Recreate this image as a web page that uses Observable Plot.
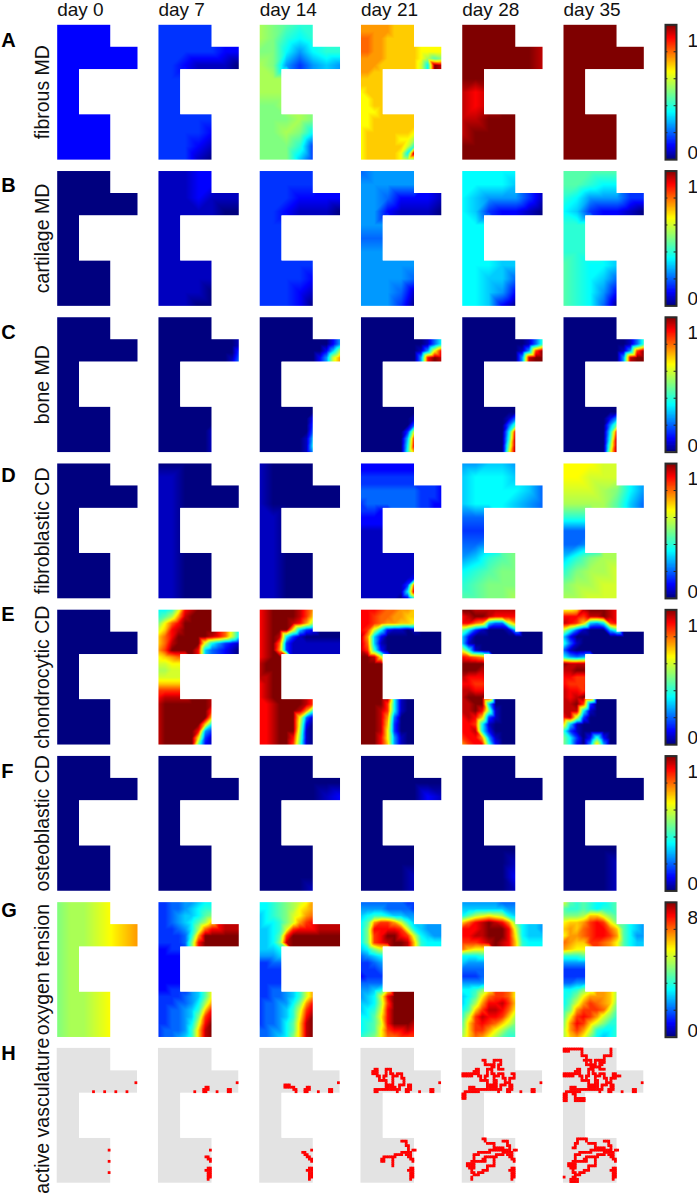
<!DOCTYPE html>
<html><head><meta charset="utf-8">
<style>html,body{margin:0;padding:0;background:#fff}#c{position:relative;width:697px;height:1198px;overflow:hidden}#c svg{position:absolute;left:0;top:0;background:transparent}</style>
<script src="https://cdn.jsdelivr.net/npm/d3@7"></script>
<script src="https://cdn.jsdelivr.net/npm/@observablehq/plot@0.6"></script>
</head><body><div id="c"></div>
<script>
const days = ["day 0","day 7","day 14","day 21","day 28","day 35"];
const rowNames = ["fibrous MD","cartilage MD","bone MD","fibroblastic CD","chondrocytic CD","osteoblastic CD","oxygen tension","active vasculature"];
const letters = ["A","B","C","D","E","F","G","H"];
const letterDepth = [10,9.4,9.6,8.4,5.1,9.8,6.7,5.2];

// Levels are base-36 digits 0..k along the rainbow ramp; each space-separated token is one row of samples.
const fibrous = ["2",
"33333 33333 3333322 3321110 333 333 333 33333 33332 33321 33310",
"ba988 ba878 aa75788 ba53565 bbb bbb aab aaaba aaba7 aaa83 aaa63",
"fffffeeee fffffeeee ggffeeeee ggffeeeee ggffeeeeedddd ffffeeeeedb9a fffeeeeeec7kj ffeee eeeee eeeee deeee ddeee ddeee dddee ddeeeeeee ddeeeeeee deeeeeeed deeeeeddb deeeeeec8 deeeeed7k deeeeedba",
"kkkkk kkkkk kkkkkkj kkkkkkj kkk jij jij jjkkk jkkkk kkkkk kkkkk",
"k"];
const cartilage = ["0",
"11122 11122 1112111 1111100 111 111 111 11111 11111 11110 11100",
"33333 33333 3332222 3321110 333 333 333 33333 33332 33321 33320",
"45555 55555 5542221 5521110 555 444 555 55555 55554 55541 55530",
"77777 77776 7655531 7632210 777 777 777 77766 77664 77652 77620",
"99999 99877 8755533 7632210 888 888 888 98776 98764 98752 98740"];
const bone = ["0",
"0 0 0 0 0000000000001 0000000000003 0000000000014 0 0 0 0 0 0 0 0 0 000000001 000000001 000000001 000000001",
"0 0 0 0 0000000000025 000000000026b 00000000025cf 0 0 0 0 0 0 0 0 000000002 000000003 000000004 000000016 000000017 000000015",
"0 0 0 0 0000000000147 00000000015di 0000000005ikj 0 0 0 0 0 0 0 0 000000001 000000004 00000003d 00000006i 00000007j 00000008f",
"0 0 0 0 0000000000148 00000000015hk 0000000005jkk 0 0 0 0 0 0 0 0 000000014 000000049 00000007j 00000008k 0000000ak 0000000ck",
"0 0 0 0 0000000000148 00000000015hk 0000000005jkk 0 0 0 0 0 0 0 0 000000025 00000005a 00000007i 00000008k 0000000ak 0000000ck"];
const fibroblastic = ["0",
"0 11000 1100000 1100000 110 110 110 11000 11000 11000 11000",
"10000 10000 1000000 1000000 110 110 110 11000 11000 11000 11000",
"2 2 3 3 4444444443332 4444444443332 3444444443322 33322 2 2 1 1 1 1 1 1 1 111111112 11111113h 11111117k 111111028",
"55665 67776 6777764 6777654 444 333 445 5689a 789aa 89aaa 99aab",
"dddcc ddccc cccba75 bbbb964 888 444 445 68abb 8abbc abbcc bbccc"];
const chondrocytic = ["0",
"778cijkkk 89bfjkkkk adgikkkkk ceijkkkkk egikkkkkjigc7 egjkkkkc75321 fhkkkki643210 defgg ccddd bbccc ccccc eeeee hhhhh ijjjj jkkkkkkkj jkkkkkkkh jkkkkkkke jkkkkkke7 jkkkkki53 jkkkkkd31 jkkkkk921",
"ijkkkkjhf ijkkkkjhe ijkkkjifb ijkkkd632 ijkj7310 ijkg31 ijkf31 ijkkk jkkkk jkkkk jjkkk ijkkk ijkkk ijkkk iijkkkkjh iijkkkjf8 iijkkkd41 iijkkkc20 iijkkkb10 iijkkia10 iijkkh910",
"iiihggffe iihggffee iihgffeed ihc721101 jf620 jg610 jh820 kkjd5 k k k k k k kkkkh7100 kkkjh7100 kkkjf4000 kkkje3000 kkkjd3000 kkkid5100 kkkie5100",
"kkjjjjjjj ijkkjiiii iigf644cf a73100016 620 610 c710 ihgfc k kkkjj jiiij iihhi jjiij jkkkj jjkk60 jjkia10 ijie310 iih710 iij720 hiif510 fhii820",
"ddejkkkji iiihjjkji jihe657hi c84100069 620 8410 410 75457 kjjjj jjkki iihhi ihhhi jiihj jijkj jjkh30 jjj710 ijc30 e610 8310 a73028200 a7205e500"];
const osteoblastic = ["0","0",
"0 0 0 0000012 0 0 0 0 0 0 00001",
"0 0 0 0000021 0 0 0 0 0 00001 00001",
"0 0 0 0 0 0 0 0 00001 00002 00001",
"0 0 0 0 0 0 0 0 00001 00001 00001"];
const oxygen = [
"abbcdef abbcdef abbcdef abbcdef abbcdef abbcdef abbcdef abbcdef abbcdef abbcdef abbcdef",
"334455677 334456788 33456679a 3345679be 333457bgiijjj 333348fkkkkkk 33334aikkkkkk 22333 2 2 2 2 2 22333 33334569d 3334457bf 3344568ei 334456ahj 334457cik 344458ejk 344568ejk",
"7789abcdf 7789abdef 6789acdfg 6778acfhi 6678chiiijjjj 6679hkkkkkkkk 667ajkkkkkkkk 66678 55567 33444 3 3 33333 33445 3344568cf 344557afi 344568chj 344568dik 344579ejk 445579ejk 44567aejk",
"444444433 555544443 678876655 79fhhfc86 7aiiiihc76555 7ahikkihc7655 7ahijkkje8777 67acc 45677 33455 33344 23334 44445 5567d 567cikkkk 667bhkkkk 678cikkkk 779dikkkk 789cikkkj 789dhiiji 89adgghhh",
"555555444 666666655 79bcdcb76 egijkjifa iiijkkkic7665 iijjkkkid7666 hhhijkjie8777 geddc 77788 65555 44444 33344 55555 778ad 679dghhgd 68bfiijhe 79ehjjigd 8chjiiheb 9ehihgeca aehhfdb99 begfdb988",
"c98987789 988987889 aaabeeca9 deefhihda efeghiige9765 dffghiihf9755 gfeehhgfd9766 feddd 88899 55555 33333 33333 44555 778ac 78adfffeb 79cfhgfea 8afhhhgc9 9dhihfca8 afiheca88 bfhfc8778 befda7678"];
const heatRows = [fibrous,cartilage,bone,fibroblastic,chondrocytic,osteoblastic,oxygen];

// Vessel paths in scaffold cells, listed by the day they first appear.
const vessels0 = [[[16,19]],[[21,19]],[[26,19]],[[31,19]],[[35,15]],[[23,45]],[[23,50]],[[23,55]]];
const vessels7 = [[[21,17],[21,19]],[[22,17],[22,18]],[[20,18],[20,19]],[[31,18],[32,18]],[[31,19],[32,19]],
 [[21,48],[22,48],[22,49],[23,49],[23,50]],[[22,53],[23,53],[23,57]],[[21,54],[22,54]],[[22,55],[22,58]]];
const vessels14 = [[[11,16],[13,16],[13,17],[15,17],[15,18],[16,18],[16,19]],[[11,17],[12,17]],
 [[19,46],[20,46],[20,47],[21,47],[21,48]]];
const vessels21 = [[[5,10],[7,10]],[[5,11],[7,11]],[[6,9],[7,9]],[[7,12],[8,12],[8,14],[10,14]],[[6,18],[13,18]],[[6,19],[7,19]],
 [[11,9],[13,9],[13,11],[14,11],[14,18]],[[11,9],[11,12],[10,12],[10,14],[11,14],[11,16]],
 [[14,12],[16,12],[16,11],[18,11],[18,13],[19,13],[19,16],[17,16],[17,18]],[[21,16],[22,16]],[[26,19]],
 [[18,41],[20,41],[20,43],[21,43],[21,46],[22,46],[22,49]],[[24,45]],
 [[10,48],[15,48],[15,47],[18,47],[18,46],[19,46]],[[14,48],[14,52]],[[9,49],[10,49]],[[9,50],[10,50]]];
const vessels28 = [[[0,11],[6,11]],[[0,12],[4,12]],[[3,17],[5,17]],[[3,18],[5,18]],[[0,20],[1,20],[1,21],[0,21],[0,22],[1,22]],[[1,19],[6,19]],
 [[9,5],[10,5],[10,7],[13,7],[13,8],[14,8],[14,5],[17,5],[17,7],[16,7],[16,9],[18,9]],[[22,11],[23,11],[23,13]],[[22,13],[21,13],[21,15],[20,15]],[[15,14],[15,17]],
 [[9,40],[10,40],[10,41],[11,42],[14,42],[14,44],[18,44]],[[9,46],[7,46],[7,47],[5,47],[5,50],[4,50],[4,52]],[[2,51],[5,51]],[[2,52],[5,52]],[[3,53],[5,53]],
 [[4,54],[4,55],[5,55],[5,56],[4,57],[4,58]],[[5,56],[7,56],[7,55],[9,55],[9,54],[11,54],[11,52],[13,52]],[[9,46],[12,46],[12,45],[20,45]],[[6,50],[10,50]]];
const vessels35 = [[[0,0],[3,0]],[[0,1],[2,1]],[[4,0],[8,0],[8,3],[10,3],[10,5],[12,5],[12,8],[13,8],[13,10]],
 [[21,0],[21,3],[18,3],[18,6],[16,6],[16,8],[14,8]],[[22,12],[25,12]],[[0,23],[1,23]],[[4,20],[5,20],[5,22],[9,22]],[[5,23],[9,23]],
 [[9,40],[6,40],[6,42],[5,42],[5,44],[4,44]],[[0,57]],[[3,59],[6,59]],[[3,58],[6,58]],[[4,57],[5,57]]];
const vesselsByDay = [vessels0,vessels7,vessels14,vessels21,vessels28,vessels35];

const notches = [{x1:24,x2:38,y1:-2,y2:10},{x1:10,x2:38,y1:20,y2:40},{x1:24,x2:38,y1:39,y2:62}];
const rampStops = [0,2,7,10,13,18,20];
const rampColors = ["#00007f","#0000ff","#00ffff","#80ff80","#ffff00","#ff0000","#7f0000"];
const barTicks = [0.2,0.4,0.6,0.8];
const barLabels = [["1","0"],["1","0"],["1","0"],["1","0"],["1","0"],["1","0"],["8","0"]];
const barLabelAt = [0.883,0.05];

const coarseLens = [5,5,7,7,3,3,3,5,5,5,5];
const fineLens = [9,9,9,9,13,13,13,5,5,5,5,5,5,5,9,9,9,9,9,9,9];
function parsePanel(str, day, row){
  let rows = str.split(" ");
  if (rows.length === 1) rows = Array(11).fill(rows[0]);
  const n = rows.length, lens = n === 11 ? coarseLens : fineLens, nc = n === 11 ? 7 : 13;
  rows = rows.map((r,j)=> r.length >= lens[j] ? r : r + r[r.length-1].repeat(lens[j]-r.length));
  const pts = [];
  for (let j=0;j<n;j++) for (let i=0;i<nc;i++){
    let ch = rows[j][i];
    if (ch === undefined){
      let best = -1, bd = 1e9;
      rows.forEach((r,k)=>{ if (r[i]!==undefined && Math.abs(k-j)<bd){bd=Math.abs(k-j);best=k;} });
      ch = rows[best][i];
    }
    pts.push({x:i*36/(nc-1), y:j*60/(n-1), v:parseInt(ch,36), day, row});
  }
  return pts;
}
const samples = heatRows.flatMap((panels,r)=>panels.flatMap((s,d)=>parsePanel(s,days[d],rowNames[r])));

function expand(path){
  const out=[[path[0][0],path[0][1]]];
  for(let k=1;k<path.length;k++){
    let [x,y]=path[k-1]; const [X,Y]=path[k];
    while(x!==X||y!==Y){ if(x!==X) x+=Math.sign(X-x); if(y!==Y) y+=Math.sign(Y-y); out.push([x,y]); }
  }
  return out;
}
const cells=[];
days.forEach((day,d)=>{
  const seen=new Set();
  for(let e=0;e<=d;e++) for(const p of vesselsByDay[e]) for(const [x,y] of expand(p)){
    const key=x+","+y; if(seen.has(key)) continue; seen.add(key);
    cells.push({x,y,day,row:rowNames[7]});
  }
});

const colorScale = {type:"linear",domain:rampStops,range:rampColors,clamp:true};
const font = "Liberation Sans, Arial, sans-serif";
const main = Plot.plot({
  width:697,height:1198,marginLeft:56.7,marginRight:53.7,marginTop:24.3,marginBottom:15.3,
  style:{fontFamily:font,background:"transparent"},
  fx:{domain:days,axis:null,paddingInner:0.207,paddingOuter:0,round:false},
  fy:{domain:rowNames,axis:null,paddingInner:0.078,paddingOuter:0,round:false},
  x:{domain:[0,36],axis:null},
  y:{domain:[0,60],reverse:true,axis:null},
  color:colorScale,
  marks:[
    Plot.raster(samples,{x:"x",y:"y",fill:"v",fx:"day",fy:"row",interpolate:"barycentric",x1:0,x2:36,y1:0,y2:60,pixelSize:1}),
    Plot.rect(days,{fx:d=>d,fy:()=>rowNames[7],x1:()=>0,x2:()=>36,y1:()=>0,y2:()=>60,fill:"#e3e3e3"}),
    Plot.rect(notches,{x1:"x1",x2:"x2",y1:"y1",y2:"y2",fill:"#fff"}),
    Plot.rect(notches.slice(1,2),{x1:"x1",x2:"x2",y1:"y1",y2:"y2",fill:"#fff"}),
    Plot.rect(cells,{x1:d=>d.x-0.12,x2:d=>d.x+1.12,y1:d=>d.y-0.12,y2:d=>d.y+1.12,fx:"day",fy:"row",fill:"#ff0000"}),
    Plot.text(days,{fx:d=>d,fy:()=>rowNames[0],x:()=>0,y:()=>0,text:d=>d,dy:-8.5,lineAnchor:"bottom",textAnchor:"start",fontSize:19,fill:"#111"}),
    Plot.text(rowNames,{fx:()=>days[0],fy:d=>d,x:()=>0,y:()=>30,text:d=>d,rotate:-90,dx:-8,lineAnchor:"bottom",textAnchor:"middle",fontSize:19.5,fill:"#111"}),
    Plot.text(letters,{fx:()=>days[0],fy:(d,i)=>rowNames[i],x:()=>0,y:(d,i)=>letterDepth[i],text:d=>d,dx:-56,lineAnchor:"bottom",textAnchor:"start",fontSize:20,fontWeight:"bold",fill:"#000"})
  ]
});
const ramp = d3.range(0,100).map(i=>({a:i/100,b:(i+1)/100,v:(i+.5)/100*20}));
const labelRows = barLabels.flatMap((pair,r)=>pair.map((t,k)=>({t,row:rowNames[r],at:barLabelAt[k]})));
const bars = Plot.plot({
  width:697,height:1198,marginLeft:665,marginRight:21,marginTop:24.3,marginBottom:161.3,
  style:{fontFamily:font,background:"transparent"},
  fy:{domain:rowNames.slice(0,7),axis:null,paddingInner:0.078,paddingOuter:0,round:false},
  x:{domain:[0,1],axis:null},
  y:{domain:[0,1],axis:null},
  color:colorScale,
  marks:[
    Plot.rect(ramp,{x1:()=>0,x2:()=>1,y1:"a",y2:d=>Math.min(1,d.b+0.006),fill:"v"}),
    Plot.ruleY(barTicks,{x1:()=>0,x2:()=>0.22,stroke:"#222",strokeWidth:1}),
    Plot.ruleY(barTicks,{x1:()=>0.78,x2:()=>1,stroke:"#222",strokeWidth:1}),
    Plot.frame({stroke:"#2a2a2a",strokeWidth:2}),
    Plot.text(labelRows,{fy:"row",x:()=>1,y:"at",text:"t",dx:11,textAnchor:"start",lineAnchor:"middle",fontSize:19,fill:"#111"})
  ]
});
const c=document.getElementById("c");
c.append(main); c.append(bars);
</script></body></html>
